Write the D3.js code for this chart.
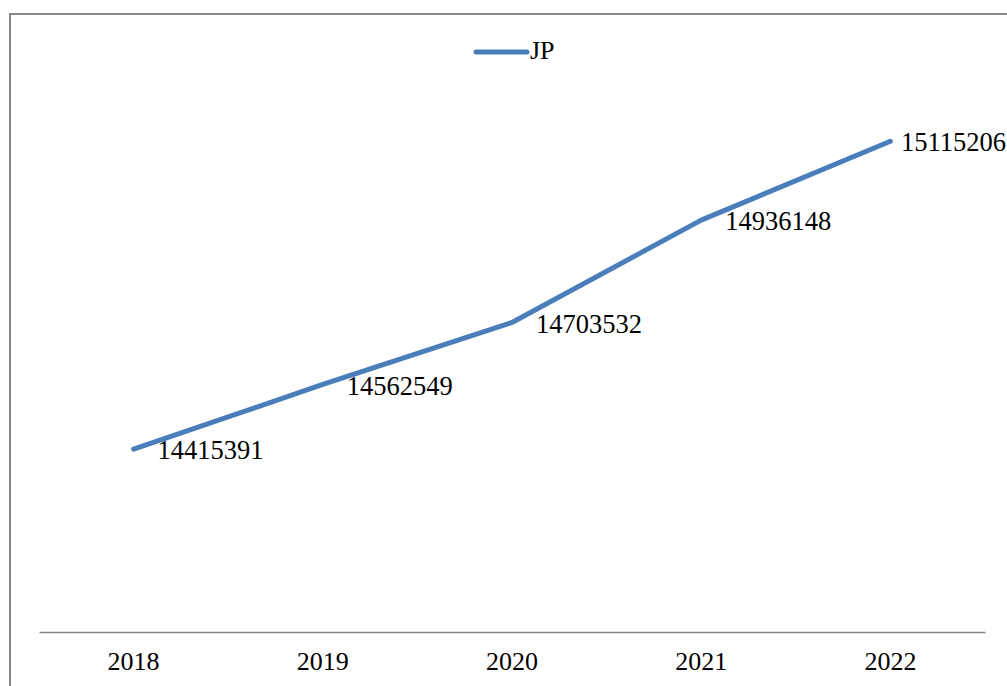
<!DOCTYPE html>
<html>
<head>
<meta charset="utf-8">
<script src="https://cdn.jsdelivr.net/npm/d3@7"></script>
<style>
  html, body { margin: 0; padding: 0; background: #fff; }
  svg { display: block; }
</style>
</head>
<body>
<script>
// JP yearly figures
const years = ["2018", "2019", "2020", "2021", "2022"];
const jpValues = [14415391, 14562549, 14703532, 14936148, 15115206];
const seriesName = "JP";

const W = 1007, H = 686;
const plot = { left: 39, right: 985, top: 104, bottom: 632 };
const lineColor = "#4a7ebb";
const font = "'Liberation Serif', 'Times New Roman', serif";

const svg = d3.select("body").append("svg")
  .attr("width", W).attr("height", H);

// chart frame (continues past the right and bottom edges)
svg.append("rect")
  .attr("x", 10).attr("y", 14)
  .attr("width", W + 20).attr("height", H + 20)
  .attr("fill", "#fff")
  .attr("stroke", "#868686").attr("stroke-width", 2);

const x = d3.scaleBand().domain(years).range([plot.left, plot.right]);
const y = d3.scaleLinear().domain([14000000, 15200000]).range([plot.bottom, plot.top]);

// category axis
const xAxis = svg.append("g")
  .attr("transform", `translate(0,${plot.bottom})`)
  .call(d3.axisBottom(x).tickSize(0).tickPadding(20));
xAxis.select(".domain").attr("stroke", "#868686").attr("stroke-width", 1.5);
xAxis.selectAll("text")
  .attr("font-family", font).attr("font-size", 26).attr("fill", "#000")
  .attr("dy", "0.71em");

const pts = years.map((yr, i) => ({ yr, v: jpValues[i], px: x(yr) + x.bandwidth() / 2, py: y(jpValues[i]) }));

// series line
svg.append("path")
  .datum(pts)
  .attr("fill", "none")
  .attr("stroke", lineColor)
  .attr("stroke-width", 5)
  .attr("stroke-linecap", "round")
  .attr("stroke-linejoin", "round")
  .attr("d", d3.line().x(d => d.px).y(d => d.py));

// value labels to the right of each point, kept inside the frame
svg.append("g").selectAll("text")
  .data(pts).join("text")
  .attr("font-family", font).attr("font-size", 26.5).attr("fill", "#000")
  .attr("y", d => d.py + 4)
  .attr("dominant-baseline", "middle")
  .text(d => d.v)
  .attr("x", function (d) {
    const w = this.getComputedTextLength();
    return Math.min(d.px + 24, W - w - 1);
  });

// legend
const lg = svg.append("g");
lg.append("line")
  .attr("x1", 476).attr("x2", 527).attr("y1", 52).attr("y2", 52)
  .attr("stroke", lineColor).attr("stroke-width", 5).attr("stroke-linecap", "round");
lg.append("text")
  .attr("x", 530).attr("y", 53)
  .attr("dominant-baseline", "middle")
  .attr("font-family", font).attr("font-size", 26).attr("fill", "#000")
  .text(seriesName);
</script>
</body>
</html>
